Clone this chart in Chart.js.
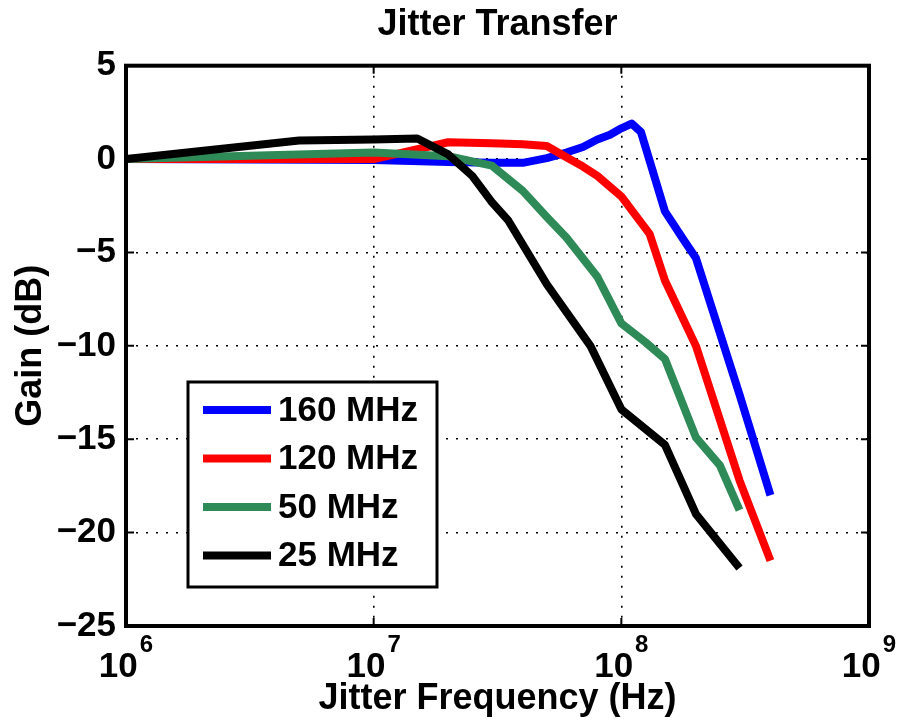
<!DOCTYPE html>
<html>
<head>
<meta charset="utf-8">
<script src="https://cdn.jsdelivr.net/npm/chart.js@4.4.1/dist/chart.umd.min.js"></script>
<style>
  html, body { margin: 0; padding: 0; background: #fff; }
  #wrap { width: 901px; height: 726px; }
</style>
</head>
<body>
<div id="wrap"><canvas id="chart" width="901" height="726"></canvas></div>
<script>
const seriesNames = ["160 MHz", "120 MHz", "50 MHz", "25 MHz"];
const seriesColors = ["#0000ff", "#ff0000", "#2e8b57", "#000000"];

// jitter frequency (Hz) and gain (dB) for each reference clock
const freq160 = [1e6, 1e7, 2e7, 3e7, 4e7, 5e7, 6e7, 7e7, 8e7, 9e7, 1e8, 1.1e8, 1.2e8, 1.5e8, 1.8e8, 2e8, 3e8, 4e8];
const gain160 = [0, -0.05, -0.15, -0.2, -0.2, 0.05, 0.35, 0.65, 1.05, 1.3, 1.65, 1.9, 1.45, -2.8, -4.4, -5.3, -12.6, -18.0];

const freq120 = [1e6, 1e7, 2e7, 3e7, 4e7, 5e7, 6e7, 7e7, 8e7, 1e8, 1.3e8, 1.5e8, 2e8, 3e8, 4e8];
const gain120 = [0, 0, 0.9, 0.85, 0.8, 0.7, 0.1, -0.4, -0.9, -2.0, -4.0, -6.5, -10.0, -17.2, -21.5];

const freq50 = [1e6, 1e7, 2e7, 3e7, 4e7, 5e7, 6e7, 8e7, 1e8, 1.25e8, 1.5e8, 2e8, 2.5e8, 3e8];
const gain50 = [0, 0.35, 0.15, -0.35, -1.7, -3.1, -4.2, -6.3, -8.8, -9.8, -10.7, -14.9, -16.4, -18.8];

const freq25 = [1e6, 5e6, 1e7, 1.5e7, 2e7, 2.5e7, 3e7, 3.5e7, 5e7, 7.5e7, 1e8, 1.5e8, 2e8, 3e8];
const gain25 = [0, 1.0, 1.05, 1.1, 0.25, -0.9, -2.3, -3.3, -6.7, -10.0, -13.4, -15.3, -19.0, -21.9];

const xTicks = [1e6, 1e7, 1e8, 1e9];
const yTicks = [5, 0, -5, -10, -15, -20, -25];

const FONT = '"Liberation Sans", Arial, Helvetica, sans-serif';

function toPoints(xs, ys) {
    return xs.map((x, i) => ({ x: x, y: ys[i] }));
}

const allFreq = [freq160, freq120, freq50, freq25];
const allGain = [gain160, gain120, gain50, gain25];

const datasets = seriesNames.map((name, i) => ({
    label: name,
    data: toPoints(allFreq[i], allGain[i]),
    borderColor: seriesColors[i],
    backgroundColor: seriesColors[i],
    borderWidth: 8,
    pointRadius: 0,
    tension: 0,
    borderJoinStyle: 'round',
    order: seriesNames.length - 1 - i
}));

// frame, inward tick marks, 10^n labels and the boxed legend
const decorations = {
    id: 'decorations',
    afterDatasetsDraw(chart) {
        const ctx = chart.ctx;
        const area = chart.chartArea;
        const xs = chart.scales.x;
        const ys = chart.scales.y;
        ctx.save();

        // tick marks on all four sides
        ctx.strokeStyle = '#000';
        ctx.lineWidth = 2;
        ctx.beginPath();
        xs.ticks.forEach(t => {
            const px = xs.getPixelForValue(t.value);
            ctx.moveTo(px, area.bottom); ctx.lineTo(px, area.bottom - 8);
            ctx.moveTo(px, area.top); ctx.lineTo(px, area.top + 8);
        });
        ys.ticks.forEach(t => {
            const py = ys.getPixelForValue(t.value);
            ctx.moveTo(area.left, py); ctx.lineTo(area.left + 8, py);
            ctx.moveTo(area.right, py); ctx.lineTo(area.right - 8, py);
        });
        ctx.stroke();

        // box
        ctx.lineWidth = 4;
        ctx.strokeRect(area.left, area.top, area.right - area.left, area.bottom - area.top);

        // x tick labels with superscript exponent
        ctx.fillStyle = '#000';
        ctx.textBaseline = 'alphabetic';
        ctx.textAlign = 'left';
        xs.ticks.forEach(t => {
            const px = xs.getPixelForValue(t.value);
            const exp = String(Math.round(Math.log10(t.value)));
            ctx.font = 'bold 35px ' + FONT;
            const baseW = ctx.measureText('10').width;
            ctx.font = 'bold 24px ' + FONT;
            const expW = ctx.measureText(exp).width;
            const start = px - (baseW + 2 + expW) / 2;
            ctx.font = 'bold 35px ' + FONT;
            ctx.fillText('10', start, 677);
            ctx.font = 'bold 24px ' + FONT;
            ctx.fillText(exp, start + baseW + 2, 652);
        });

        // legend
        const box = { left: 188, top: 382, right: 437, bottom: 587 };
        ctx.fillStyle = '#fff';
        ctx.fillRect(box.left, box.top, box.right - box.left, box.bottom - box.top);
        ctx.lineWidth = 3;
        ctx.strokeStyle = '#000';
        ctx.strokeRect(box.left, box.top, box.right - box.left, box.bottom - box.top);
        ctx.font = 'bold 35px ' + FONT;
        ctx.textBaseline = 'middle';
        chart.data.datasets.forEach((ds, i) => {
            const y = 410 + i * 48.5;
            ctx.strokeStyle = ds.borderColor;
            ctx.lineWidth = 8;
            ctx.beginPath();
            ctx.moveTo(203, y);
            ctx.lineTo(271, y);
            ctx.stroke();
            ctx.fillStyle = '#000';
            ctx.fillText(ds.label, 278, y + 1);
        });

        ctx.restore();
    }
};

new Chart(document.getElementById('chart'), {
    type: 'line',
    data: { datasets: datasets },
    plugins: [decorations],
    options: {
        responsive: false,
        animation: false,
        devicePixelRatio: 1,
        layout: { padding: { top: 0, right: 32, bottom: 0, left: 0 } },
        plugins: {
            legend: { display: false },
            tooltip: { enabled: false },
            title: {
                display: true,
                text: 'Jitter Transfer',
                fullSize: false,
                color: '#000',
                font: { family: FONT, size: 36, weight: 'bold' },
                padding: { top: 3, bottom: 19.5 }
            }
        },
        scales: {
            x: {
                type: 'logarithmic',
                min: 1e6,
                max: 1e9,
                afterBuildTicks: scale => { scale.ticks = xTicks.map(v => ({ value: v })); },
                afterFit: scale => { scale.height = 100; },
                ticks: { display: false },
                grid: { color: '#000', lineWidth: 1.6, drawTicks: false },
                border: { display: false, dash: [2, 8] },
                title: {
                    display: true,
                    text: 'Jitter Frequency (Hz)',
                    color: '#000',
                    font: { family: FONT, size: 36, weight: 'bold' },
                    padding: { top: 0, bottom: 5 }
                }
            },
            y: {
                type: 'linear',
                min: -25,
                max: 5,
                afterBuildTicks: scale => { scale.ticks = yTicks.map(v => ({ value: v })); },
                afterFit: scale => { scale.width = 126; },
                ticks: {
                    color: '#000',
                    padding: 10,
                    font: { family: FONT, size: 35, weight: 'bold' },
                    callback: v => (v < 0 ? '\u2212' + Math.abs(v) : String(v))
                },
                grid: { color: '#000', lineWidth: 1.6, drawTicks: false },
                border: { display: false, dash: [2, 8] },
                title: {
                    display: true,
                    text: 'Gain (dB)',
                    color: '#000',
                    font: { family: FONT, size: 36, weight: 'bold' },
                    padding: { top: 9, bottom: 0 }
                }
            }
        }
    }
});
</script>
</body>
</html>
